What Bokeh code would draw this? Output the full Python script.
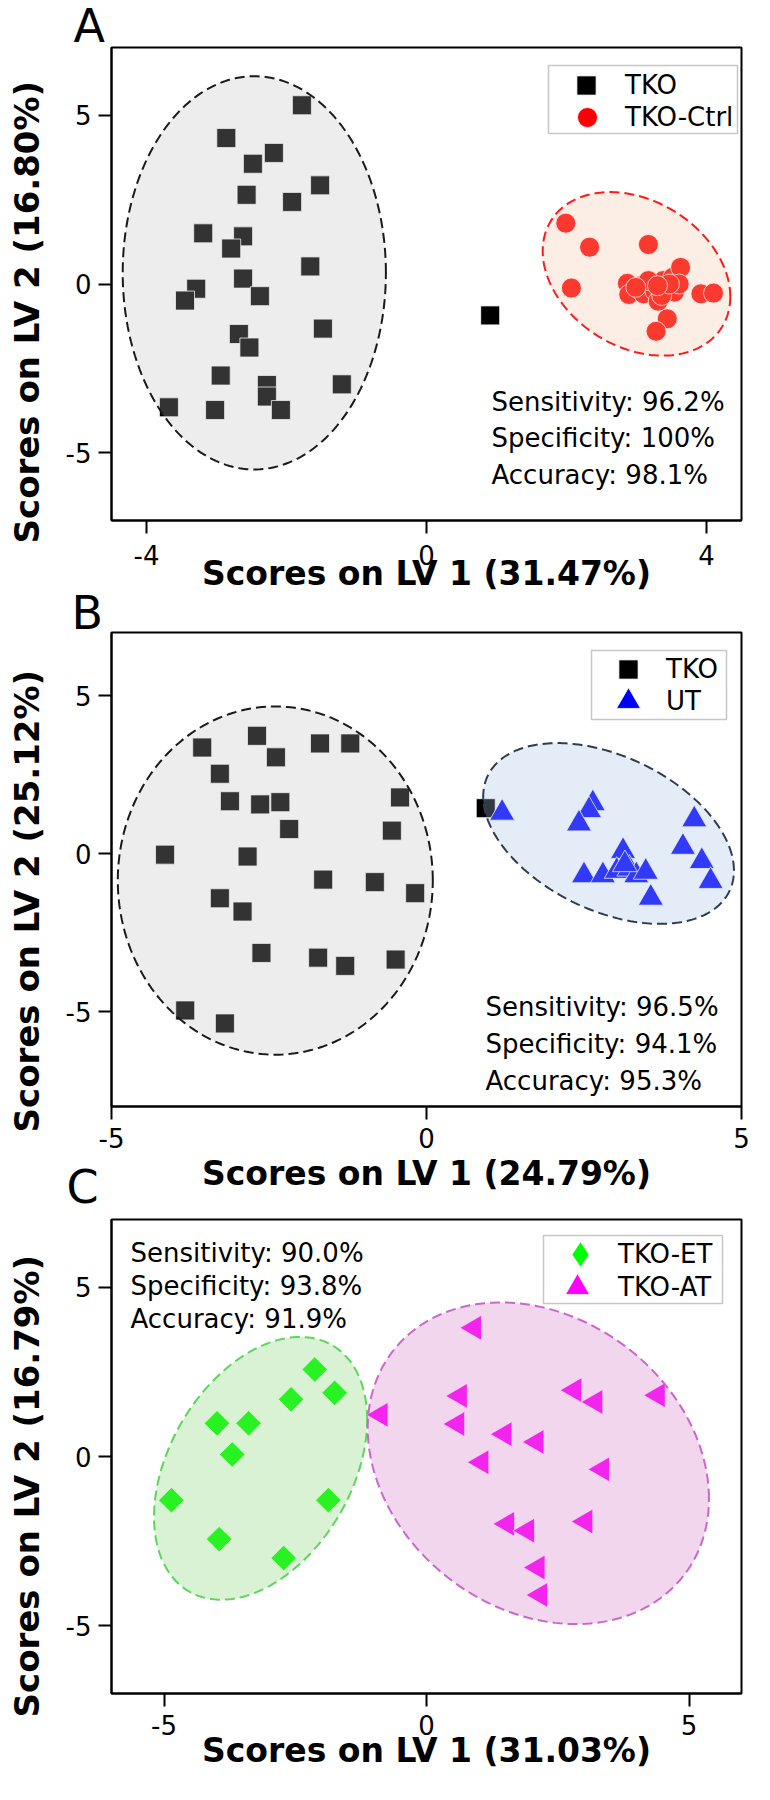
import numpy as np
from bokeh.plotting import figure
from bokeh.models import (FixedTicker, Label, Legend, LegendItem, BoxAnnotation, Range1d, Title)
from bokeh.layouts import column
from bokeh.embed import file_html
from bokeh.resources import INLINE

# ---------------- data ----------------
# Panel A
a_tko_x = [-1.78, -2.86, -2.18, -2.48, -1.52, -2.57, -1.92, -3.19, -2.62, -2.79, -1.66, -2.62, -3.29,
           -3.45, -2.38, -1.48, -2.68, -2.53, -2.94, -2.28, -2.28, -1.21, -3.68, -3.02, -2.08, 0.91]
a_tko_y = [5.29, 4.32, 3.88, 3.56, 2.92, 2.64, 2.43, 1.50, 1.41, 1.05, 0.52, 0.16, -0.14,
           -0.49, -0.36, -1.32, -1.48, -1.88, -2.71, -2.99, -3.33, -2.97, -3.65, -3.73, -3.73, -0.93]
a_ctrl_x = [1.99, 2.33, 3.17, 2.07, 3.92, 4.10, 3.44, 3.28, 2.87, 2.89, 3.06, 3.10, 3.22, 3.26, 3.31,
            3.38, 3.43, 3.52, 3.54, 3.63, 3.61, 3.17, 2.99, 3.36, 3.47, 3.30]
a_ctrl_y = [1.80, 1.09, 1.17, -0.12, -0.29, -0.27, -1.03, -1.40, 0.02, -0.31, -0.05, -0.29, 0.05, -0.20,
            -0.51, 0.10, -0.15, 0.20, -0.24, 0.49, 0.00, 0.10, -0.10, -0.34, 0.00, -0.05]
# ellipse parameters: centre x, centre y, half extent x, half extent y, correlation
a_ell_tko = [-2.46, 0.33, 1.88, 5.82, 0.0]
a_ell_ctrl = [3.00, 0.30, 1.34, 2.42, -0.28]
a_stats = ["Sensitivity: 96.2%", "Specificity: 100%", "Accuracy: 98.1%"]
a_xticks = [-4, 0, 4]

# Panel B
b_tko_x = [-3.56, -2.69, -2.39, -1.69, -1.21, -3.28, -3.12, -2.64, -2.32, -0.42, -2.18, -0.55, -4.15,
           -2.84, -1.64, -0.82, -0.18, -3.28, -2.92, -2.62, -1.72, -1.29, -0.49, -3.83, -3.20, 0.94]
b_tko_y = [3.36, 3.73, 3.05, 3.49, 3.49, 2.53, 1.66, 1.56, 1.63, 1.78, 0.78, 0.73, -0.03,
           -0.09, -0.82, -0.90, -1.25, -1.41, -1.83, -3.14, -3.29, -3.55, -3.35, -4.96, -5.37, 1.44]
b_ut_x = [1.20, 2.64, 2.58, 2.42, 4.25, 4.07, 4.37, 4.51, 3.12, 2.50, 2.80, 3.02, 3.22, 3.33, 3.48, 3.56, 3.15]
b_ut_y = [1.29, 1.59, 1.37, 0.95, 1.08, 0.21, -0.24, -0.87, 0.08, -0.69, -0.69, -0.55, -0.48, -0.69, -0.58, -1.40, -0.34]
b_ell_tko = [-2.40, -0.85, 2.50, 5.51, 0.0]
b_ell_ut = [2.89, 0.64, 1.99, 2.86, -0.41]
b_stats = ["Sensitivity: 96.5%", "Specificity: 94.1%", "Accuracy: 95.3%"]
b_xticks = [-5, 0, 5]

# Panel C
c_et_x = [-4.86, -3.99, -3.39, -3.70, -2.58, -2.13, -1.75, -1.87, -3.95, -2.72]
c_et_y = [-1.29, 0.98, 0.98, 0.06, 1.69, 2.57, 1.88, -1.29, -2.44, -3.00]
c_at_x = [0.91, -0.87, 0.64, 0.59, 1.05, 1.49, 2.10, 2.82, 3.22, 4.41, 3.35, 1.54, 1.92, 3.03, 2.12, 2.17]
c_at_y = [3.80, 1.23, 1.79, 0.96, -0.17, 0.66, 0.43, 1.96, 1.61, 1.81, -0.38, -1.99, -2.19, -1.92, -3.28, -4.09]
c_ell_et = [-3.16, -0.35, 2.03, 3.88, 0.37]
c_ell_at = [2.13, -0.20, 3.25, 4.75, -0.22]
c_stats = ["Sensitivity: 90.0%", "Specificity: 93.8%", "Accuracy: 91.9%"]
c_xticks = [-5, 0, 5]

y_ticks = [-5, 0, 5]

FONT = "DejaVu Sans"


def ellipse_xy(params, n=240):
    cx, cy, sx, sy, rho = params
    t = np.linspace(0, 2 * np.pi, n)
    x = cx + sx * np.cos(t)
    y = cy + sy * (rho * np.cos(t) + np.sqrt(1 - rho ** 2) * np.sin(t))
    return x, y


def tick_text(ticks):
    # plain hyphen-minus for negative tick labels, as in the original figure
    return {t: str(t) for t in ticks}


def make_panel(xr, yr, xticks, frame_h, b_top, b_bottom, margin, tick_standoff, xlabel, xlabel_standoff):
    p = figure(x_range=Range1d(*xr), y_range=Range1d(*yr), frame_width=643, frame_height=frame_h,
               min_border_left=124, min_border_right=10, min_border_top=b_top, min_border_bottom=b_bottom,
               output_backend="svg", toolbar_location=None, title=None, margin=margin)
    p.border_fill_alpha = 0
    p.xgrid.visible = False
    p.ygrid.visible = False
    p.outline_line_color = "black"
    p.outline_line_width = 2
    p.outline_line_alpha = 1
    p.xaxis.ticker = FixedTicker(ticks=xticks)
    p.yaxis.ticker = FixedTicker(ticks=y_ticks)
    p.xaxis.major_label_overrides = tick_text(xticks)
    p.yaxis.major_label_overrides = tick_text(y_ticks)
    for ax in (p.xaxis[0], p.yaxis[0]):
        ax.axis_line_width = 2
        ax.axis_line_color = "black"
        ax.major_tick_line_width = 2
        ax.major_tick_line_color = "black"
        ax.major_tick_out = 13
        ax.major_tick_in = 0
        ax.minor_tick_out = 0
        ax.minor_tick_in = 0
        ax.major_label_text_font = FONT
        ax.major_label_text_font_size = "26px"
        ax.major_label_text_color = "black"
    p.xaxis.major_label_standoff = tick_standoff
    p.yaxis.major_label_standoff = 7
    p.xaxis.axis_label = xlabel
    p.xaxis.axis_label_text_font = FONT
    p.xaxis.axis_label_text_font_size = "33px"
    p.xaxis.axis_label_text_font_style = "bold"
    p.xaxis.axis_label_text_color = "black"
    p.xaxis.axis_label_standoff = xlabel_standoff
    return p


def add_series(p, xs, ys, marker, size, color, angle=0.0):
    return p.scatter(xs, ys, marker=marker, size=size, angle=angle, fill_color=color,
                     line_color="white", line_width=0.8)


def add_ellipse(p, params, fill, alpha, line):
    ex, ey = ellipse_xy(params)
    p.patch(ex, ey, fill_color=fill, fill_alpha=alpha, line_color=line, line_width=2, line_dash="10 5")


def add_legend_item(p, label, renderer, loc, glyph, standoff):
    leg = Legend(items=[LegendItem(label=label, renderers=[renderer])], location=loc,
                 glyph_width=glyph, glyph_height=glyph, spacing=0, padding=0, margin=0,
                 label_standoff=standoff, label_text_font=FONT, label_text_font_size="26px",
                 label_text_color="black", border_line_alpha=0, background_fill_alpha=0)
    p.add_layout(leg)


def legend_box(p, box):
    l, r, t, b = box
    p.add_layout(BoxAnnotation(left=l, right=r, top=t, bottom=b, left_units="canvas", right_units="canvas",
                               top_units="canvas", bottom_units="canvas", fill_alpha=0,
                               line_color="#444444", line_width=1.5))


def text(p, x, y, s, size="26px"):
    p.add_layout(Label(x=x, y=y, x_units="canvas", y_units="canvas", text=s, text_font=FONT,
                       text_font_size=size, text_align="left", text_baseline="alphabetic", text_color="black"))


def side_title(p, s, side, size, bold, align, valign, offset, standoff):
    p.add_layout(Title(text=s, text_font=FONT, text_font_size=size,
                       text_font_style="bold" if bold else "normal", text_color="black",
                       align=align, vertical_align=valign, offset=offset, standoff=standoff), side)


# ---------------- Panel A ----------------
pa = make_panel((-4.5, 4.5), (-7, 7), a_xticks, 473, 47, 92, (0, 0, 0, -13), 11,
                "Scores on LV 1 (31.47%)", -14)
ra1 = add_series(pa, a_tko_x, a_tko_y, "square", 19, "black")
ra2 = add_series(pa, a_ctrl_x, a_ctrl_y, "circle", 20, "#FF0000")
add_ellipse(pa, a_ell_tko, "#BDBDBD", 0.27, "#1A1A1A")
add_ellipse(pa, a_ell_ctrl, "#F5C5A3", 0.29, "#FF1A1A")
add_legend_item(pa, "TKO", ra1, (451, 411), 48, 15)
add_legend_item(pa, "TKO-Ctrl", ra2, (451, 378), 50, 13)
legend_box(pa, (561, 750, 65, 133))
side_title(pa, "A", "above", "46px", False, "left", "middle", -38, -12)
side_title(pa, "Scores on LV 2 (16.80%)", "left", "34px", True, "left", "top", -23, 28)
for yy, s in zip([401, 437, 474], a_stats):
    text(pa, 504, yy, s)

# ---------------- Panel B ----------------
pb = make_panel((-5, 5), (-8, 7), b_xticks, 474, 48, 106, (-28, 0, 0, -13), 8,
                "Scores on LV 1 (24.79%)", 3)
rb1 = add_series(pb, b_tko_x, b_tko_y, "square", 19, "black")
rb2 = add_series(pb, b_ut_x, b_ut_y, "triangle", 25, "#0000FF")
add_ellipse(pb, b_ell_tko, "#BDBDBD", 0.27, "#1A1A1A")
add_ellipse(pb, b_ell_ut, "#A2C0E4", 0.30, "#2F3D4F")
add_legend_item(pb, "TKO", rb1, (493, 413), 48, 14)
add_legend_item(pb, "UT", rb2, (487, 375), 60, 8)
legend_box(pb, (604, 739, 66, 135))
side_title(pb, "B", "above", "46px", False, "left", "middle", -40, -16)
side_title(pb, "Scores on LV 2 (25.12%)", "left", "34px", True, "left", "top", -26, 28)
for yy, s in zip([422, 459, 496], b_stats):
    text(pb, 498, yy, s)

# ---------------- Panel C ----------------
pc = make_panel((-6, 6), (-7, 7), c_xticks, 474, 66, 99, (-59, 0, 0, -13), 8,
                "Scores on LV 1 (31.03%)", -7)
rc1 = add_series(pc, c_et_x, c_et_y, "square", 18, "#00FF00", angle=np.pi / 4)
rc2 = add_series(pc, c_at_x, c_at_y, "triangle", 25, "#FF00FF", angle=np.pi / 2)
# legend key for the diamond series (a single non-drawn point)
rc1_key = pc.scatter([np.nan], [np.nan], marker="diamond", fill_color="#00FF00", line_color="white", line_width=0.8)
add_ellipse(pc, c_ell_et, "#84D470", 0.30, "#5CD65C")
add_ellipse(pc, c_ell_at, "#D476C6", 0.30, "#CC66CC")
add_legend_item(pc, "TKO-ET", rc1_key, (437, 407), 64, 6)
add_legend_item(pc, "TKO-AT", rc2, (436, 376), 60, 11)
legend_box(pc, (556, 735, 82, 150))
side_title(pc, "C", "above", "46px", False, "left", "middle", -45, 10)
side_title(pc, "Scores on LV 2 (16.79%)", "left", "34px", True, "left", "top", -24, 28)
for yy, s in zip([99, 132, 165], c_stats):
    text(pc, 143, yy, s)

layout = column(pa, pb, pc, spacing=0)
open("out.html", "w").write(file_html(layout, INLINE))
